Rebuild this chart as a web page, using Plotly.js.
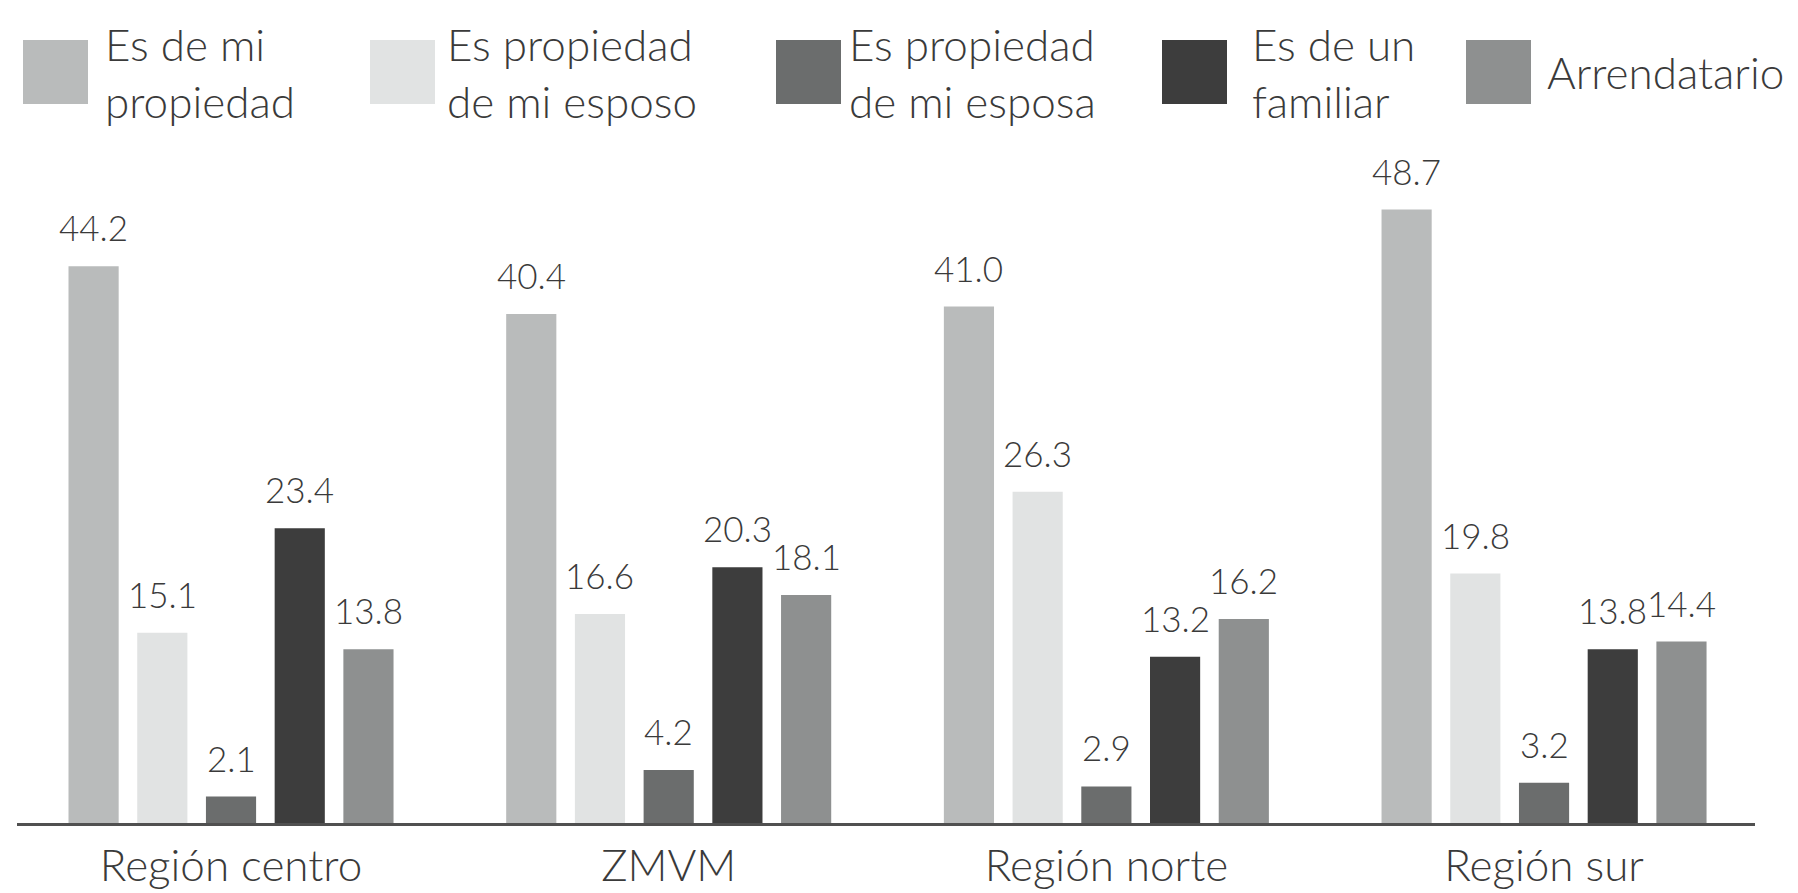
<!DOCTYPE html>
<html>
<head>
<meta charset="utf-8">
<script src="https://cdn.plot.ly/plotly-3.0.1.min.js"></script>
<style>
  html, body { margin: 0; padding: 0; background: #fff; }
  #chart { width: 1798px; height: 893px; }
</style>
</head>
<body>
<div id="chart"></div>
<script>
const regions = ['Región centro', 'ZMVM', 'Región norte', 'Región sur'];

const seriesNames = [
  'Es de mi<br>propiedad',
  'Es propiedad<br>de mi esposo',
  'Es propiedad<br>de mi esposa',
  'Es de un<br>familiar',
  'Arrendatario'
];

const propia = [44.2, 40.4, 41.0, 48.7];
const esposo = [15.1, 16.6, 26.3, 19.8];
const esposa = [2.1, 4.2, 2.9, 3.2];
const familiar = [23.4, 20.3, 13.2, 13.8];
const arrendatario = [13.8, 18.1, 16.2, 14.4];

const seriesValues = [propia, esposo, esposa, familiar, arrendatario];
const seriesColors = ['#b9bbbb', '#e1e3e3', '#6b6d6d', '#3d3d3d', '#8e9090'];

const FONT = 'Lato, "Open Sans", sans-serif';
const TEXT = '#3a3a3a';
const W = 1798, H = 893;
const margin = { l: 17, r: 43, t: 168, b: 70 };
const BARGAP = 0.215;

const traces = seriesValues.map((vals, i) => ({
  type: 'bar',
  name: seriesNames[i],
  x: regions,
  y: vals,
  marker: { color: seriesColors[i] },
  hoverinfo: 'skip',
  showlegend: false
}));

const annotations = [];
const shapes = [];

// value labels above each bar (category index + group offset)
const n = seriesValues.length;
const slot = (1 - BARGAP) / n;
seriesValues.forEach((vals, k) => {
  vals.forEach((v, i) => {
    annotations.push({
      x: i + (k - (n - 1) / 2) * slot,
      y: v,
      xref: 'x', yref: 'y',
      text: v.toFixed(1),
      showarrow: false,
      xanchor: 'center', yanchor: 'bottom',
      yshift: 16,
      font: { family: FONT, size: 35, color: TEXT, weight: 300 }
    });
  });
});

// legend drawn as big swatches + labels above the plot
const plotW = W - margin.l - margin.r;
const plotH = H - margin.t - margin.b;
const px = x => (x - margin.l) / plotW;
const py = y => (H - margin.b - y) / plotH;
const swatchLeft = [23, 370, 776, 1162, 1466];
const labelLeft = [103, 445, 847, 1250, 1545];
seriesNames.forEach((name, i) => {
  shapes.push({
    type: 'rect', xref: 'paper', yref: 'paper',
    x0: px(swatchLeft[i]), x1: px(swatchLeft[i] + 65), y0: py(104), y1: py(40),
    fillcolor: seriesColors[i], line: { width: 0 }
  });
  annotations.push({
    xref: 'paper', yref: 'paper',
    x: px(labelLeft[i]), y: py(72),
    xanchor: 'left', yanchor: 'middle', align: 'left',
    text: name, showarrow: false,
    font: { family: FONT, size: 44, color: TEXT, weight: 300 }
  });
});

const layout = {
  width: W, height: H,
  margin: margin,
  paper_bgcolor: '#ffffff',
  plot_bgcolor: '#ffffff',
  barmode: 'group',
  bargap: BARGAP,
  bargroupgap: 0.27,
  showlegend: false,
  font: { family: FONT, color: TEXT },
  xaxis: {
    type: 'category',
    range: [-0.489, 3.482],
    showgrid: false,
    showline: true,
    linecolor: '#505050',
    linewidth: 3,
    ticks: '',
    ticklabelstandoff: 2,
    tickfont: { family: FONT, size: 44, color: TEXT, weight: 300 },
    fixedrange: true
  },
  yaxis: {
    range: [0, 52],
    showgrid: false,
    zeroline: false,
    showline: false,
    showticklabels: false,
    ticks: '',
    fixedrange: true
  },
  shapes: shapes,
  annotations: annotations
};

Plotly.newPlot('chart', traces, layout, { displayModeBar: false, staticPlot: true });
</script>
</body>
</html>
